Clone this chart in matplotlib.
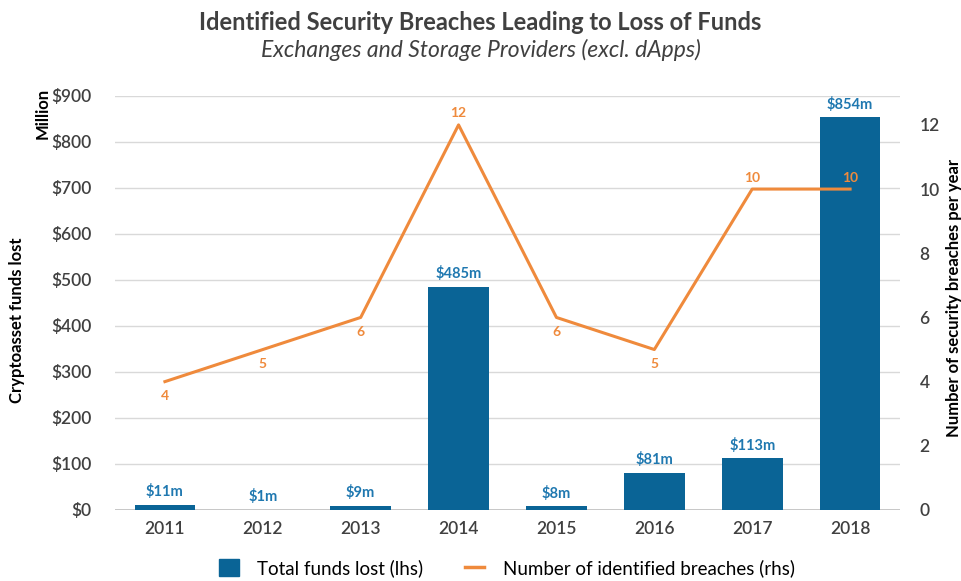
import matplotlib.pyplot as plt
from matplotlib.lines import Line2D
from matplotlib.patches import Patch

plt.rcParams['font.family'] = ['Lato', 'DejaVu Sans']

years = ['2011', '2012', '2013', '2014', '2015', '2016', '2017', '2018']
funds_lost = [11, 1, 9, 485, 8, 81, 113, 854]
breaches = [4, 5, 6, 12, 6, 5, 10, 10]

col_bar = '#0A6496'
col_bar_lbl = '#1F78B0'
col_line = '#EF8A3C'
col_text = '#404040'
col_grid = '#D9D9D9'

fig = plt.figure(figsize=(9.61, 5.81), dpi=100)
ax = fig.add_axes([115 / 961, 1 - 510 / 581, 785 / 961, 414 / 581])
ax2 = ax.twinx()

x = list(range(len(years)))
ax.bar(x, funds_lost, width=0.62, color=col_bar, zorder=2)
for xi, v in zip(x, funds_lost):
    ax.text(xi, v + 12, f'${v}m', ha='center', va='bottom', fontsize=10.5,
            fontweight='bold', color=col_bar_lbl)

ax.set_xlim(-0.51, 7.51)
ax.set_ylim(0, 900)
ax.set_yticks(range(0, 901, 100))
ax.set_yticklabels([f'${v}' for v in range(0, 901, 100)])
ax.set_xticks(x)
ax.set_xticklabels(years)
ax.grid(axis='y', color=col_grid, linewidth=1, zorder=0)
ax.set_axisbelow(True)
for s in ax.spines.values():
    s.set_visible(False)
for s in ax2.spines.values():
    s.set_visible(False)
ax.axhline(0, color='#BFBFBF', linewidth=1.2, zorder=1)
ax.tick_params(axis='both', length=0, labelsize=12.5, labelcolor=col_text)
ax.tick_params(axis='y', pad=17)
ax.tick_params(axis='x', pad=8)
for lbl in ax.get_xticklabels() + ax.get_yticklabels():
    lbl.set_fontweight('semibold')

ax2.plot(x, breaches, color=col_line, linewidth=2.2, zorder=3)
for xi, n in zip(x, breaches):
    above = n >= 10
    ax2.annotate(str(n), (xi, n), textcoords='offset points',
                 xytext=(0, 4 if above else -6),
                 ha='center', va='bottom' if above else 'top',
                 fontsize=10, fontweight='bold', color=col_line)
ax2.set_ylim(0, 12.9)
ax2.set_yticks(range(0, 13, 2))
ax2.tick_params(axis='y', length=0, labelsize=12.5, labelcolor=col_text, pad=14)
for lbl in ax2.get_yticklabels():
    lbl.set_fontweight('semibold')

fig.text(0.5, 1 - 22 / 581, 'Identified Security Breaches Leading to Loss of Funds',
         ha='center', va='center', fontsize=17, fontweight='bold', color=col_text)
fig.text(0.5, 1 - 50 / 581, 'Exchanges and Storage Providers (excl. dApps)',
         ha='center', va='center', fontsize=16.5, style='italic', color=col_text)

fig.text(17 / 961, 1 - 320 / 581, 'Cryptoasset funds lost', rotation=90,
         ha='center', va='center', fontsize=12, fontweight='bold', color='black')
fig.text(43 / 961, 1 - 113 / 581, 'Million', rotation=90,
         ha='center', va='center', fontsize=12, fontweight='bold', color='black')
fig.text(954 / 961, 1 - 298 / 581, 'Number of security breaches per year', rotation=90,
         ha='center', va='center', fontsize=12, fontweight='bold', color='black')

handles = [Patch(color=col_bar, label='Total funds lost (lhs)'),
           Line2D([0], [0], color=col_line, linewidth=2.5,
                  label='Number of identified breaches (rhs)')]
fig.legend(handles=handles, loc='center', bbox_to_anchor=(507 / 961, 1 - 568 / 581),
           ncol=2, frameon=False, fontsize=13.5, handlelength=1.05, handleheight=1.05,
           columnspacing=2.2, handletextpad=1.0)

fig.savefig('out.png', dpi=100)
